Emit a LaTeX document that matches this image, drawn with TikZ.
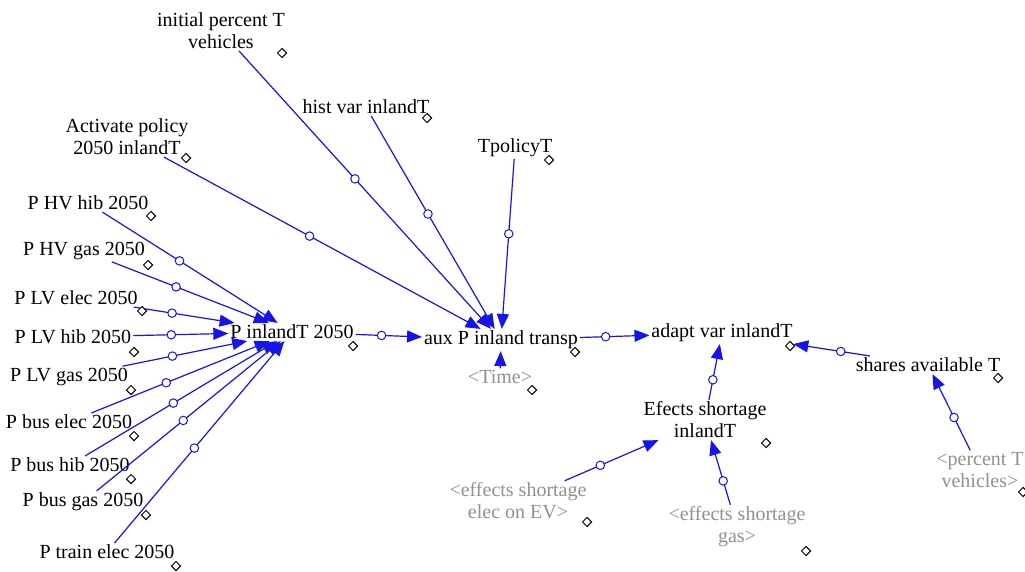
\documentclass[tikz,border=0pt]{standalone}
\usepackage{fontspec}
\setmainfont{Liberation Serif}
\usetikzlibrary{arrows.meta,shapes.geometric}
\definecolor{linkblue}{RGB}{20,20,235}
\definecolor{shadowgray}{RGB}{145,145,145}
\tikzset{
  var/.style={font=\fontsize{20}{22}\selectfont, inner sep=2pt, outer sep=0pt, align=center, text=black},
  shadowvar/.style={var, text=shadowgray},
  link/.style={draw=linkblue, line width=1.2pt, -{Triangle[length=15pt,width=12pt]}},
  handle/.style={circle, draw=linkblue, fill=white, line width=1pt, minimum size=8.5pt, inner sep=0pt},
  vdia/.style={diamond, draw=black, fill=white, line width=1pt, minimum size=9.5pt, inner sep=0pt},
}
\begin{document}
\begin{tikzpicture}[x=1pt,y=-1pt]
\useasboundingbox[fill=white] (0,0) rectangle (1025,572);
% variables
\node[var] (init) at (221,31) {initial percent T\\vehicles};
\node[var] (hist) at (366,107) {hist var inlandT};
\node[var] (tpol) at (515,148) {TpolicyT};
\node[var] (act) at (127,137) {Activate policy\\2050 inlandT};
\node[var] (hvhib) at (88,203) {P HV hib 2050};
\node[var] (hvgas) at (84,251) {P HV gas 2050};
\node[var] (lvelec) at (76,298) {P LV elec 2050};
\node[var] (lvhib) at (73,337) {P LV hib 2050};
\node[var] (lvgas) at (69,377) {P LV gas 2050};
\node[var] (buselec) at (69,422) {P bus elec 2050};
\node[var] (bushib) at (70,465) {P bus hib 2050};
\node[var] (busgas) at (83,502) {P bus gas 2050};
\node[var] (train) at (107,552) {P train elec 2050};
\node[var] (pin) at (292,332) {P inlandT 2050};
\node[var] (aux) at (501,340) {aux P inland transp};
\node[shadowvar] (time) at (500,377) {<Time>};
\node[var] (adapt) at (722,333) {adapt var inlandT};
\node[var] (shares) at (928,365) {shares available T};
\node[var] (efects) at (705,420) {Efects shortage\\inlandT};
\node[shadowvar] (pct) at (980,470) {<percent T\\vehicles>};
\node[shadowvar] (eselec) at (518,501) {<effects shortage\\elec on EV>};
\node[shadowvar] (esgas) at (737,527) {<effects shortage\\gas>};
% connectors
\draw[link] (init) -- node[handle,pos=0.46] (h1) {} (aux);
\draw[link] (hist) -- node[handle,pos=0.46] (h2) {} (aux);
\draw[link] (tpol) -- node[handle,pos=0.44] (h3) {} (aux);
\draw[link] (act) -- node[handle,pos=0.46] (h4) {} (aux);
\draw[link] (hvhib) -- node[handle,pos=0.44] (h5) {} (pin);
\draw[link] (hvgas) -- node[handle,pos=0.41] (h6) {} (pin);
\draw[link] (lvelec) -- node[handle,pos=0.38] (h7) {} (pin);
\draw[link] (lvhib) -- node[handle,pos=0.40] (h8) {} (pin);
\draw[link] (lvgas) -- node[handle,pos=0.40] (h9) {} (pin);
\draw[link] (buselec) -- node[handle,pos=0.42] (h10) {} (pin);
\draw[link] (bushib) -- node[handle,pos=0.46] (h11) {} (pin);
\draw[link] (busgas) -- node[handle,pos=0.47] (h12) {} (pin);
\draw[link] (train) -- node[handle,pos=0.47] (h13) {} (pin);
\draw[link] (pin) -- node[handle,pos=0.39] (h14) {} (aux);
\draw[link] (time) -- (aux);
\draw[link] (aux) -- node[handle,pos=0.37] (h15) {} (adapt);
\draw[link] (shares) -- node[handle,pos=0.38] (h16) {} (adapt);
\draw[link] (efects) -- node[handle,pos=0.36] (h17) {} (adapt);
\draw[link] (pct) -- node[handle,pos=0.43] (h18) {} (shares);
\draw[link] (eselec) -- node[handle,pos=0.38] (h19) {} (efects);
\draw[link] (esgas) -- node[handle,pos=0.37] (h20) {} (efects);
% variable markers
\node[vdia] (init-d) at (282,53) {};
\node[vdia] (hist-d) at (427,118) {};
\node[vdia] (tpol-d) at (549,160) {};
\node[vdia] (act-d) at (186,158) {};
\node[vdia] (hvhib-d) at (151,216) {};
\node[vdia] (hvgas-d) at (148,265) {};
\node[vdia] (lvelec-d) at (142,311) {};
\node[vdia] (lvhib-d) at (134,352) {};
\node[vdia] (lvgas-d) at (131,390) {};
\node[vdia] (buselec-d) at (134,436) {};
\node[vdia] (bushib-d) at (131,479) {};
\node[vdia] (busgas-d) at (146,515) {};
\node[vdia] (train-d) at (176,566) {};
\node[vdia] (pin-d) at (353,346) {};
\node[vdia] (aux-d) at (575,352) {};
\node[vdia] (time-d) at (532,390) {};
\node[vdia] (adapt-d) at (790,346) {};
\node[vdia] (shares-d) at (998,378) {};
\node[vdia] (efects-d) at (766,443) {};
\node[vdia] (pct-d) at (1023,492) {};
\node[vdia] (eselec-d) at (587,522) {};
\node[vdia] (esgas-d) at (806,551) {};
\end{tikzpicture}
\end{document}
